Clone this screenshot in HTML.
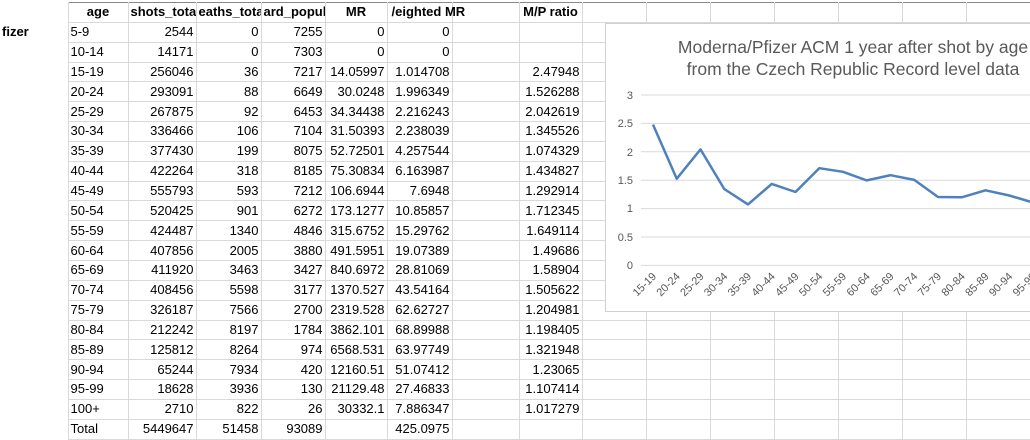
<!DOCTYPE html>
<html><head><meta charset="utf-8"><style>
body{margin:0;width:1030px;height:438px;overflow:hidden;background:#fff;font-family:"Liberation Sans",sans-serif;font-size:13px;color:#000;position:relative}
table{position:absolute;left:0;top:2px;border-collapse:collapse;table-layout:fixed;width:1030px}
td{height:19.85px;padding:0 2px;border:1px solid #d9d9d9;white-space:nowrap;overflow:hidden;text-align:right;line-height:18px;box-sizing:border-box}
tr.h td{font-weight:bold;text-align:center;border-top:1px solid #888}
td.l{text-align:left}
td.a{border-left:1px solid #777}
tr td:first-child{border-top:none;border-bottom:none;border-left:none}
#chart{position:absolute;left:605px;top:23px;width:440px;height:287px;background:#fff;border:1px solid #d0d0d0}
</style></head><body>
<table>
<colgroup><col style="width:68px"><col style="width:60px"><col style="width:68px"><col style="width:65px"><col style="width:64px"><col style="width:62px"><col style="width:65px"><col style="width:67px"><col style="width:63px"><col style="width:64px"><col style="width:64px"><col style="width:64px"><col style="width:64px"><col style="width:64px"><col style="width:64px"><col style="width:64px"></colgroup>
<tr class="h"><td></td><td class="a">age</td><td>shots_tota</td><td>eaths_tota</td><td>ard_popul</td><td>MR</td><td style="overflow:visible;text-align:left;padding-left:4px">/eighted MR</td><td></td><td>M/P ratio</td><td></td><td></td><td></td><td></td><td></td><td></td><td></td></tr>
<tr><td class="l" style="font-weight:bold">fizer</td><td class="l a">5-9</td><td>2544</td><td>0</td><td>7255</td><td>0</td><td>0</td><td></td><td></td><td></td><td></td><td></td><td></td><td></td><td></td><td></td></tr>
<tr><td></td><td class="l a">10-14</td><td>14171</td><td>0</td><td>7303</td><td>0</td><td>0</td><td></td><td></td><td></td><td></td><td></td><td></td><td></td><td></td><td></td></tr>
<tr><td></td><td class="l a">15-19</td><td>256046</td><td>36</td><td>7217</td><td>14.05997</td><td>1.014708</td><td></td><td>2.47948</td><td></td><td></td><td></td><td></td><td></td><td></td><td></td></tr>
<tr><td></td><td class="l a">20-24</td><td>293091</td><td>88</td><td>6649</td><td>30.0248</td><td>1.996349</td><td></td><td>1.526288</td><td></td><td></td><td></td><td></td><td></td><td></td><td></td></tr>
<tr><td></td><td class="l a">25-29</td><td>267875</td><td>92</td><td>6453</td><td>34.34438</td><td>2.216243</td><td></td><td>2.042619</td><td></td><td></td><td></td><td></td><td></td><td></td><td></td></tr>
<tr><td></td><td class="l a">30-34</td><td>336466</td><td>106</td><td>7104</td><td>31.50393</td><td>2.238039</td><td></td><td>1.345526</td><td></td><td></td><td></td><td></td><td></td><td></td><td></td></tr>
<tr><td></td><td class="l a">35-39</td><td>377430</td><td>199</td><td>8075</td><td>52.72501</td><td>4.257544</td><td></td><td>1.074329</td><td></td><td></td><td></td><td></td><td></td><td></td><td></td></tr>
<tr><td></td><td class="l a">40-44</td><td>422264</td><td>318</td><td>8185</td><td>75.30834</td><td>6.163987</td><td></td><td>1.434827</td><td></td><td></td><td></td><td></td><td></td><td></td><td></td></tr>
<tr><td></td><td class="l a">45-49</td><td>555793</td><td>593</td><td>7212</td><td>106.6944</td><td>7.6948</td><td></td><td>1.292914</td><td></td><td></td><td></td><td></td><td></td><td></td><td></td></tr>
<tr><td></td><td class="l a">50-54</td><td>520425</td><td>901</td><td>6272</td><td>173.1277</td><td>10.85857</td><td></td><td>1.712345</td><td></td><td></td><td></td><td></td><td></td><td></td><td></td></tr>
<tr><td></td><td class="l a">55-59</td><td>424487</td><td>1340</td><td>4846</td><td>315.6752</td><td>15.29762</td><td></td><td>1.649114</td><td></td><td></td><td></td><td></td><td></td><td></td><td></td></tr>
<tr><td></td><td class="l a">60-64</td><td>407856</td><td>2005</td><td>3880</td><td>491.5951</td><td>19.07389</td><td></td><td>1.49686</td><td></td><td></td><td></td><td></td><td></td><td></td><td></td></tr>
<tr><td></td><td class="l a">65-69</td><td>411920</td><td>3463</td><td>3427</td><td>840.6972</td><td>28.81069</td><td></td><td>1.58904</td><td></td><td></td><td></td><td></td><td></td><td></td><td></td></tr>
<tr><td></td><td class="l a">70-74</td><td>408456</td><td>5598</td><td>3177</td><td>1370.527</td><td>43.54164</td><td></td><td>1.505622</td><td></td><td></td><td></td><td></td><td></td><td></td><td></td></tr>
<tr><td></td><td class="l a">75-79</td><td>326187</td><td>7566</td><td>2700</td><td>2319.528</td><td>62.62727</td><td></td><td>1.204981</td><td></td><td></td><td></td><td></td><td></td><td></td><td></td></tr>
<tr><td></td><td class="l a">80-84</td><td>212242</td><td>8197</td><td>1784</td><td>3862.101</td><td>68.89988</td><td></td><td>1.198405</td><td></td><td></td><td></td><td></td><td></td><td></td><td></td></tr>
<tr><td></td><td class="l a">85-89</td><td>125812</td><td>8264</td><td>974</td><td>6568.531</td><td>63.97749</td><td></td><td>1.321948</td><td></td><td></td><td></td><td></td><td></td><td></td><td></td></tr>
<tr><td></td><td class="l a">90-94</td><td>65244</td><td>7934</td><td>420</td><td>12160.51</td><td>51.07412</td><td></td><td>1.23065</td><td></td><td></td><td></td><td></td><td></td><td></td><td></td></tr>
<tr><td></td><td class="l a">95-99</td><td>18628</td><td>3936</td><td>130</td><td>21129.48</td><td>27.46833</td><td></td><td>1.107414</td><td></td><td></td><td></td><td></td><td></td><td></td><td></td></tr>
<tr><td></td><td class="l a">100+</td><td>2710</td><td>822</td><td>26</td><td>30332.1</td><td>7.886347</td><td></td><td>1.017279</td><td></td><td></td><td></td><td></td><td></td><td></td><td></td></tr>
<tr><td></td><td class="l a">Total</td><td>5449647</td><td>51458</td><td>93089</td><td></td><td>425.0975</td><td></td><td></td><td></td><td></td><td></td><td></td><td></td><td></td><td></td></tr>
</table>
<div id="chart">
<svg width="440" height="287" viewBox="605 23 440 287" style="position:absolute;left:0;top:0" font-family="Liberation Sans, sans-serif">
<text x="852" y="52" text-anchor="middle" font-size="17.5" fill="#595959">Moderna/Pfizer ACM 1 year after shot by age</text>
<text x="852" y="74" text-anchor="middle" font-size="17.5" fill="#595959">from the Czech Republic Record level data</text>
<g stroke="#d9d9d9" stroke-width="1">
<line x1="640" x2="1045" y1="94" y2="94"/><line x1="640" x2="1045" y1="122.4" y2="122.4"/><line x1="640" x2="1045" y1="150.8" y2="150.8"/><line x1="640" x2="1045" y1="179.2" y2="179.2"/><line x1="640" x2="1045" y1="207.6" y2="207.6"/><line x1="640" x2="1045" y1="236" y2="236"/><line x1="640" x2="1045" y1="264.4" y2="264.4"/>
</g>
<g font-size="11" fill="#595959" text-anchor="end">
<text x="632" y="98">3</text><text x="632" y="126">2.5</text><text x="632" y="155">2</text><text x="632" y="183">1.5</text><text x="632" y="211">1</text><text x="632" y="240">0.5</text><text x="632" y="268">0</text>
</g>
<polyline fill="none" stroke="#4f81bd" stroke-width="2.5" stroke-linejoin="round" points="652,123.6 675.75,177.7 699.5,148.4 723.25,188.0 747,203.4 770.75,182.9 794.5,191.0 818.25,167.2 842,170.8 865.75,179.4 889.5,174.2 913.25,178.9 937,196.0 960.75,196.3 984.5,189.3 1008.25,194.5 1032,201.5 1055.75,206.6"/>
<g font-size="11" fill="#595959" text-anchor="end">
<text transform="translate(656,276) rotate(-45)">15-19</text>
<text transform="translate(679.75,276) rotate(-45)">20-24</text>
<text transform="translate(703.5,276) rotate(-45)">25-29</text>
<text transform="translate(727.25,276) rotate(-45)">30-34</text>
<text transform="translate(751,276) rotate(-45)">35-39</text>
<text transform="translate(774.75,276) rotate(-45)">40-44</text>
<text transform="translate(798.5,276) rotate(-45)">45-49</text>
<text transform="translate(822.25,276) rotate(-45)">50-54</text>
<text transform="translate(846,276) rotate(-45)">55-59</text>
<text transform="translate(869.75,276) rotate(-45)">60-64</text>
<text transform="translate(893.5,276) rotate(-45)">65-69</text>
<text transform="translate(917.25,276) rotate(-45)">70-74</text>
<text transform="translate(941,276) rotate(-45)">75-79</text>
<text transform="translate(964.75,276) rotate(-45)">80-84</text>
<text transform="translate(988.5,276) rotate(-45)">85-89</text>
<text transform="translate(1012.25,276) rotate(-45)">90-94</text>
<text transform="translate(1036,276) rotate(-45)">95-99</text>
</g>
</svg>
</div>
</body></html>
